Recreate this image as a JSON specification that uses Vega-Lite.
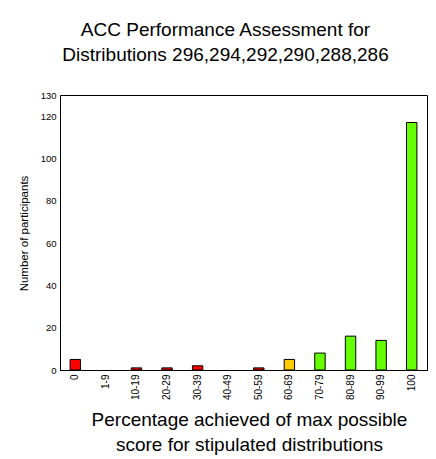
{
  "$schema": "https://vega.github.io/schema/vega-lite/v6.json",
  "autosize": {"type": "none"},
  "padding": {"left": 60, "top": 95, "right": 9, "bottom": 89},
  "width": 367,
  "height": 275,
  "background": "white",
  "config": {
    "font": "Liberation Sans",
    "view": {"stroke": "black", "strokeWidth": 1}
  },
  "title": {
    "text": ["ACC Performance Assessment for", "Distributions 296,294,292,290,288,286"],
    "fontSize": 19,
    "fontWeight": "normal",
    "color": "black",
    "lineHeight": 25,
    "anchor": "middle",
    "offset": 25,
    "dx": -18
  },
  "data": {
    "values": [
      {"range": "0", "count": 5, "band": "low"},
      {"range": "1-9", "count": 0, "band": "low"},
      {"range": "10-19", "count": 1, "band": "low"},
      {"range": "20-29", "count": 1, "band": "low"},
      {"range": "30-39", "count": 2, "band": "low"},
      {"range": "40-49", "count": 0, "band": "low"},
      {"range": "50-59", "count": 1, "band": "low"},
      {"range": "60-69", "count": 5, "band": "mid"},
      {"range": "70-79", "count": 8, "band": "high"},
      {"range": "80-89", "count": 16, "band": "high"},
      {"range": "90-99", "count": 14, "band": "high"},
      {"range": "100", "count": 117, "band": "high"}
    ]
  },
  "mark": {"type": "bar", "stroke": "black", "strokeWidth": 1},
  "encoding": {
    "x": {
      "field": "range",
      "type": "nominal",
      "sort": null,
      "scale": {"paddingInner": 0.66, "paddingOuter": 0.33},
      "axis": {
        "title": ["Percentage achieved of max possible", "score for stipulated distributions"],
        "titleFontSize": 19,
        "titleFontWeight": "normal",
        "titleColor": "black",
        "titleLineHeight": 25,
        "titleBaseline": "top",
        "titleX": 189,
        "titleY": 40,
        "titleAlign": "center",
        "labelAngle": -90,
        "labelFontSize": 10,
        "labelColor": "black",
        "labelPadding": 4,
        "ticks": false,
        "domainColor": "black"
      }
    },
    "y": {
      "field": "count",
      "type": "quantitative",
      "scale": {"domain": [0, 130], "nice": false},
      "axis": {
        "title": "Number of participants",
        "titleFontSize": 11.5,
        "titleFontWeight": "normal",
        "titleColor": "black",
        "titleX": -31,
        "titleY": 138,
        "values": [0, 20, 40, 60, 80, 100, 120, 130],
        "labelFontSize": 9.5,
        "labelColor": "black",
        "labelPadding": 4,
        "ticks": false,
        "grid": false,
        "domainColor": "black"
      }
    },
    "color": {
      "field": "band",
      "type": "nominal",
      "scale": {"domain": ["low", "mid", "high"], "range": ["#ff0000", "#ffcc00", "#66ff00"]},
      "legend": null
    },
    "strokeOpacity": {
      "condition": {"test": "datum.count == 0", "value": 0},
      "value": 1
    }
  }
}
